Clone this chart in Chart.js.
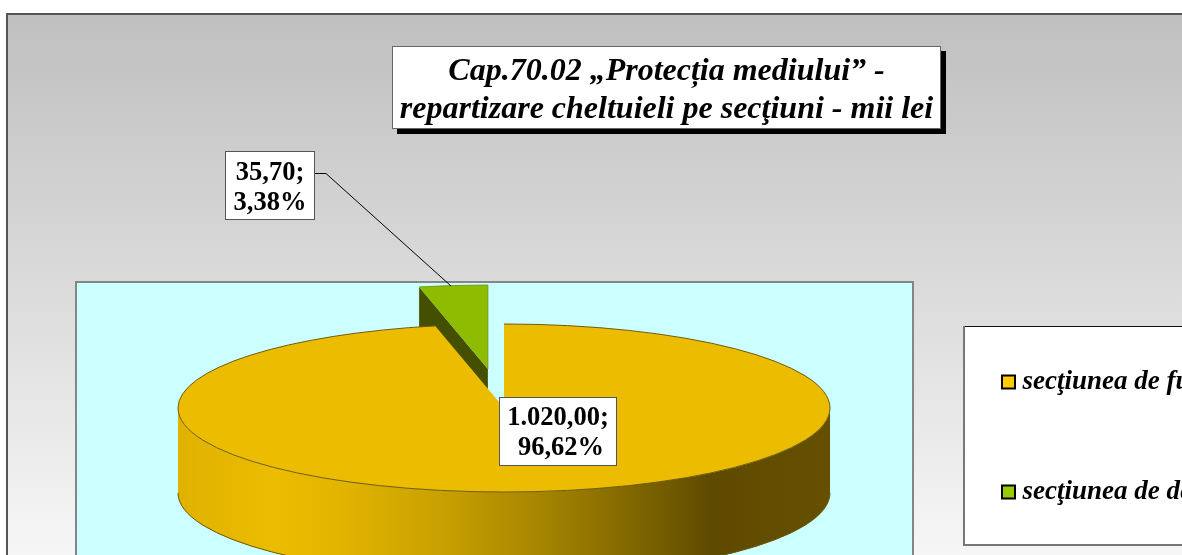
<!DOCTYPE html>
<html><head><meta charset="utf-8">
<style>html,body{margin:0;padding:0;background:#fff;overflow:hidden}canvas{display:block}</style>
<script src="https://cdn.jsdelivr.net/npm/chart.js@4"></script></head>
<body><canvas id="c" width="1182" height="555"></canvas>
<script>
const categories = ['secţiunea de funcţionare', 'secţiunea de dezvoltare'];
const values = [1020.00, 35.70];
const sliceColors = ['#ECBC00', '#8DBC00'];
const legendColors = ['#FFCC00', '#99CC00'];
const titleLines = ['Cap.70.02 „Protecția mediului” -', 'repartizare cheltuieli pe secţiuni - mii lei'];

const SERIF = '"Liberation Serif","Times New Roman",serif';
const P = {cx:504, cy:408, tilt:84/326, depth:85, radius:326};
const total = values.reduce((a,b)=>a+b,0);
const fmt = (v,d)=>{const s=v.toFixed(d).split('.');return s[0].replace(/\B(?=(\d{3})+$)/g,'.')+','+s[1];};

function rect(ctx,x,y,w,h,fill,stroke,lw){
  ctx.fillStyle=fill;ctx.fillRect(x,y,w,h);
  if(stroke){ctx.strokeStyle=stroke;ctx.lineWidth=lw||1;ctx.strokeRect(x+.5,y+.5,w-1,h-1);}
}
function exploded(gr){
  const off=(gr.options.offset||0)/4, mid=(gr.startAngle+gr.endAngle)/2;
  return {x:P.cx+Math.cos(mid)*off, y:P.cy+Math.sin(mid)*off*P.tilt,
          start:mid-gr.circumference/2, end:mid+gr.circumference/2};
}
const plugin={
  id:'pie3d',
  beforeDraw(chart){
    const ctx=chart.ctx;
    ctx.save();
    rect(ctx,0,0,1182,555,'#fff');
    const g=ctx.createLinearGradient(0,13,0,640);
    g.addColorStop(0,'#BFBFBF');g.addColorStop(1,'#FFFFFF');
    ctx.fillStyle=g;ctx.fillRect(6,13,1176,542);
    ctx.fillStyle='#555';ctx.fillRect(6,13,1176,2);ctx.fillRect(6,13,2,542);
    // plot area
    ctx.fillStyle='#CCFFFF';ctx.fillRect(76,282,837,273);
    ctx.fillStyle='#858585';ctx.fillRect(75,281,839,2);ctx.fillRect(75,281,2,274);ctx.fillRect(912,281,2,274);
    // legend box
    ctx.fillStyle='#fff';ctx.fillRect(964,326,218,219);
    ctx.fillStyle='#111';ctx.fillRect(964,326,218,1);
    ctx.fillStyle='#777';ctx.fillRect(963,326,2,220);ctx.fillRect(963,544,219,2);
    // title box
    ctx.fillStyle='#000';ctx.fillRect(397,51,549,83);
    ctx.fillStyle='#fff';ctx.fillRect(392,46,549,83);
    ctx.strokeStyle='#666';ctx.lineWidth=1;ctx.strokeRect(392.5,46.5,548,82);
    ctx.restore();
  },
  afterLayout(chart){
    const t=chart.titleBlock, l=chart.legend;
    t.left=392;t.right=941;t.top=53;t.bottom=130;t.width=549;
    l.left=925;l.right=1400;l.top=285.5;l.bottom=800;
  },
  afterDatasetUpdate(chart){
    // the arc grows and narrows with its offset; undo that so the exploded slice keeps the pie's size and angle
    const gr=chart.getDatasetMeta(0).data[1];
    const off=(gr.options.offset||0)/4;
    const grow=off*(1-Math.sin(Math.min(Math.PI,gr.circumference)));
    gr.outerRadius=P.radius-grow;
    const widen=grow/Math.PI/P.radius/2;
    gr.startAngle-=widen;gr.endAngle+=widen;
  },
  beforeDatasetsDraw(chart){
    const ctx=chart.ctx, arcs=chart.getDatasetMeta(0).data, y=arcs[0], gr=arcs[1];
    const k=P.tilt,r=y.outerRadius;
    ctx.save();
    // yellow wall, front half of the rim
    const g=ctx.createLinearGradient(P.cx-r,0,P.cx+r,0);
    [[0,'#E0B200'],[.15,'#ECBC00'],[.25,'#E2B400'],[.4,'#C9A100'],[.55,'#A88600'],[.7,'#806600'],[.82,'#5E4A00'],[1,'#665000']]
      .forEach(s=>g.addColorStop(s[0],s[1]));
    ctx.fillStyle=g;
    ctx.beginPath();
    ctx.ellipse(P.cx,P.cy,r,r*k,0,0,Math.PI,false);
    ctx.lineTo(P.cx-r,P.cy+P.depth);
    ctx.ellipse(P.cx,P.cy+P.depth,r,r*k,0,Math.PI,0,true);
    ctx.closePath();ctx.fill();
    ctx.strokeStyle='#6b5800';ctx.lineWidth=1;
    ctx.beginPath();ctx.ellipse(P.cx,P.cy+P.depth,r,r*k,0,Math.PI,0,true);ctx.stroke();
    // green cut face
    const a=exploded(gr);
    const ex=a.x+Math.cos(a.start)*r, ey=a.y+Math.sin(a.start)*r*k;
    ctx.fillStyle='#445000';
    ctx.beginPath();ctx.moveTo(ex,ey);ctx.lineTo(a.x,a.y);ctx.lineTo(a.x,a.y+P.depth);ctx.lineTo(ex,ey+P.depth);ctx.closePath();ctx.fill();
    ctx.restore();
  },
  beforeDatasetDraw(chart){
    const ctx=chart.ctx, a=chart.getDatasetMeta(0).data[0];
    ctx.save();
    ctx.translate(P.cx,P.cy);ctx.scale(1,P.tilt);ctx.translate(-a.x,-a.y);
  },
  afterDatasetDraw(chart){chart.ctx.restore();},
  afterDatasetsDraw(chart){
    const ctx=chart.ctx, arcs=chart.getDatasetMeta(0).data, y=arcs[0], gr=arcs[1], k=P.tilt, r=y.outerRadius;
    ctx.save();
    // rim of the yellow top
    ctx.lineWidth=1;
    ctx.strokeStyle='#6f5c10';
    ctx.beginPath();ctx.ellipse(P.cx,P.cy,r,r*k,0,y.startAngle,y.endAngle);ctx.stroke();
    // darker edge of the green top
    const a=exploded(gr);
    ctx.strokeStyle='#7A9A20';
    ctx.beginPath();ctx.ellipse(a.x,a.y,r,r*k,0,a.start,a.end);ctx.lineTo(a.x,a.y);ctx.stroke();
    // leader
    ctx.strokeStyle='#000';ctx.lineWidth=1;
    ctx.beginPath();ctx.moveTo(315,173.5);ctx.lineTo(326,173.5);ctx.lineTo(451,286);ctx.stroke();
    // data labels
    const boxes=[{x:499,y:397,w:118,h:69,cx:558,cx2:561,l1:418,l2:448},{x:225,y:151,w:90,h:69,cx:270,cx2:270,l1:173,l2:203}];
    ctx.font='bold 26.5px '+SERIF;ctx.textAlign='center';ctx.textBaseline='middle';
    values.forEach((v,i)=>{
      const b=boxes[i];
      rect(ctx,b.x,b.y,b.w,b.h,'#fff','#555');
      ctx.fillStyle='#000';
      ctx.fillText(fmt(v,2)+';',b.cx,b.l1);
      ctx.fillText(fmt(v/total*100,2)+'%',b.cx2,b.l2);
    });
    ctx.restore();
  }
};
new Chart(document.getElementById('c'),{
  type:'pie',
  data:{labels:categories,datasets:[{data:values,backgroundColor:sliceColors,borderWidth:0,offset:[0,608],clip:false}]},
  options:{
    responsive:false,animation:false,radius:P.radius,cutout:'0%',
    plugins:{
      tooltip:{enabled:false},
      title:{display:true,text:titleLines,color:'#000',padding:0,font:{family:SERIF,size:32,weight:'bold',style:'italic',lineHeight:1.19}},
      legend:{display:true,position:'right',align:'start',labels:{
        color:'#000',usePointStyle:true,boxWidth:1,boxHeight:13,padding:83,font:{family:SERIF,size:27,weight:'bold',style:'italic'},
        generateLabels:()=>categories.map((c,i)=>({text:c,fillStyle:legendColors[i],strokeStyle:'#000',lineWidth:2,pointStyle:'rect',rotation:0,index:i,hidden:false}))
      }}
    }
  },
  plugins:[plugin]
});
</script></body></html>
